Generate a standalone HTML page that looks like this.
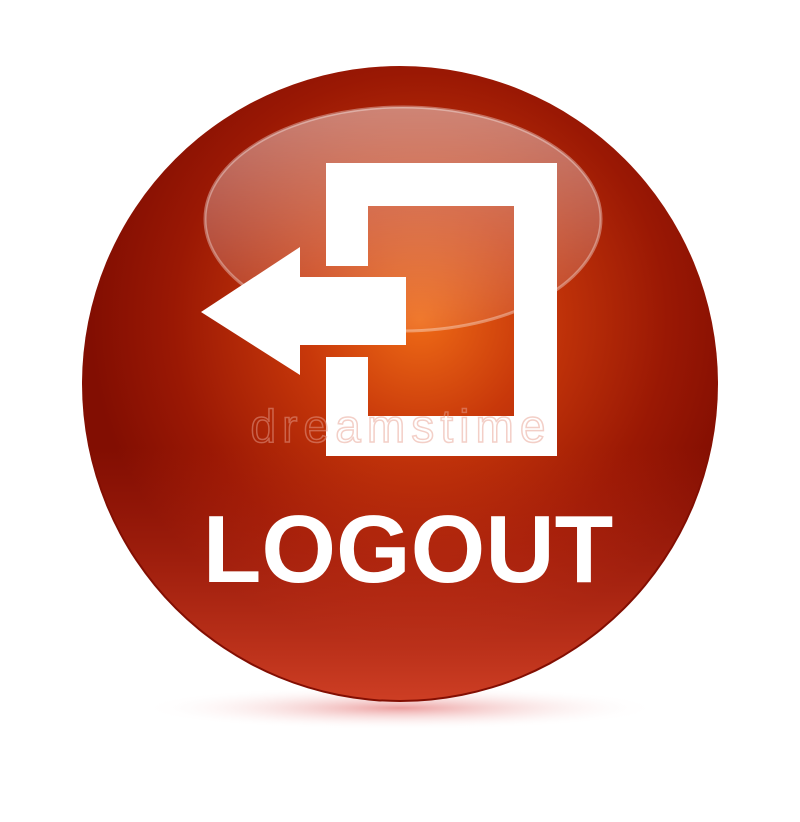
<!DOCTYPE html>
<html><head><meta charset="utf-8"><style>
html,body{margin:0;padding:0;background:#fff;width:800px;height:822px;overflow:hidden}
</style></head><body>
<svg width="800" height="822" viewBox="0 0 800 822" xmlns="http://www.w3.org/2000/svg">
<defs>
<radialGradient id="body" cx="420" cy="320" r="330" gradientUnits="userSpaceOnUse">
<stop offset="0" stop-color="#ee6a16"/>
<stop offset="0.35" stop-color="#c8380a"/>
<stop offset="0.75" stop-color="#9a1804"/>
<stop offset="1" stop-color="#820e02"/>
</radialGradient>
<linearGradient id="rim" x1="0" y1="0" x2="0" y2="1">
<stop offset="0.6" stop-color="#c83018" stop-opacity="0"/>
<stop offset="1" stop-color="#e04a2c" stop-opacity="0.8"/>
</linearGradient>
<linearGradient id="hl" x1="0" y1="0" x2="0" y2="1">
<stop offset="0" stop-color="#fff" stop-opacity="0.45"/>
<stop offset="1" stop-color="#fff" stop-opacity="0.08"/>
</linearGradient>
<radialGradient id="shadow" cx="0.5" cy="0.5" r="0.5">
<stop offset="0" stop-color="#e06060" stop-opacity="0.6"/>
<stop offset="1" stop-color="#fff" stop-opacity="0"/>
</radialGradient>
</defs>
<ellipse cx="400" cy="708" rx="260" ry="22" fill="url(#shadow)"/>
<circle cx="400" cy="384" r="318" fill="url(#body)"/>
<circle cx="400" cy="384" r="316" fill="url(#rim)"/>
<ellipse cx="403" cy="219" rx="198" ry="112" fill="url(#hl)" stroke="#fff" stroke-opacity="0.35" stroke-width="3"/>
<path fill="#fff" fill-rule="evenodd" d="M326 163 H557 V456 H326 V357 H368 V416 H514 V206 H368 V266 H326 Z"/>
<path fill="#fff" d="M201 312 L300 247 V277 H406 V345 H300 V375 Z"/>
<text x="398" y="442" text-anchor="middle" textLength="295" font-family="Liberation Sans, sans-serif" font-size="46" fill="none" stroke="#e8a090" stroke-opacity="0.5" stroke-width="1.5">dreamstime</text>
<text x="408" y="582" text-anchor="middle" font-family="Liberation Sans, sans-serif" font-weight="bold" font-size="96" fill="#fff">LOGOUT</text>
</svg>
</body></html>
